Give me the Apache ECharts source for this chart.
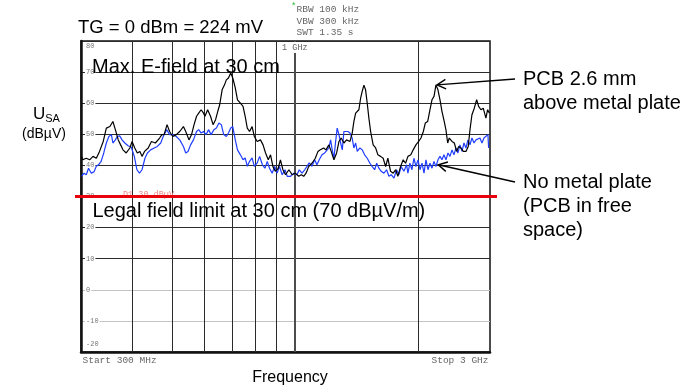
<!DOCTYPE html>
<html>
<head>
<meta charset="utf-8">
<script src="https://cdn.jsdelivr.net/npm/echarts@6/dist/echarts.min.js"></script>
<style>
html,body{margin:0;padding:0;background:#fff}
#chart{width:696px;height:388px}
</style>
</head>
<body>
<div id="chart"></div>
<script>
// Spectrum analyser sweep, 300 MHz .. 3 GHz (log), level in dBµV
const freqMin = 300;
const freqMax = 3000;
const levelMin = -20;
const levelMax = 80;
const levelStep = 10;

// vertical graticule (MHz); 1 GHz is the emphasised line
const freqGridMHz = [400, 500, 600, 700, 800, 900, 1000, 2000];

// display line D1
const displayLineDbuv = 30;

// trace: PCB 2.6 mm above metal plate  [MHz, dBµV]
const traceMetalPlate = [
  [301,42.9],[303,41.8],[309,42.3],[315,41.8],[321,42.9],[327,42.3],[333,44.5],[340,47.7],[346,52],[353,52.5],
  [359,54.1],[364,51.5],[370,48.2],[375,46.6],[380,45],[387,44],[395,45.6],[400,47.7],[406,45.6],[412,44],
  [418,44.5],[423,42.9],[429,44.5],[438,45.6],[446,47.7],[456,47.2],[467,48.8],[473,49.9],[479,49.9],[487,53.1],
  [494,50.9],[503,49.3],[513,49.9],[523,50.9],[534,52.5],[541,50.9],[551,48.2],[559,49.9],[567,53.1],[575,55.8],
  [582,56.8],[590,57.9],[598,56.8],[603,55.8],[612,57.9],[622,55.8],[631,53.1],[640,54.7],[648,57.4],[655,59.5],
  [664,64.3],[673,65.9],[680,67.5],[688,68.1],[697,69.7],[705,68.1],[715,64.9],[724,61.1],[736,60],[747,59],
  [756,55.8],[765,52],[775,50.9],[786,52.5],[796,49.3],[809,47.7],[824,48.2],[836,46.6],[848,44],[861,41.8],
  [872,43.4],[884,39.6],[896,38.1],[910,39],[922,41.8],[935,38.6],[949,37],[967,38.6],[985,37],[1002,37.5],
  [1022,36.5],[1037,37],[1051,36.5],[1065,37.5],[1081,39.6],[1101,40.7],[1122,42.3],[1139,44.5],[1154,45],[1176,45.6],
  [1191,45],[1211,46.6],[1227,44.5],[1246,41.8],[1265,44],[1282,47.7],[1298,48.8],[1318,47.2],[1338,48.2],[1364,47.7],
  [1381,50.4],[1394,54.1],[1408,56.8],[1421,57.4],[1434,57.9],[1448,61.6],[1461,63.8],[1475,65.8],[1489,64.3],[1503,60],
  [1517,55.2],[1532,50.9],[1554,46.6],[1576,45.6],[1596,43.4],[1620,42.9],[1644,42.3],[1667,39.6],[1688,42.3],[1714,38.1],
  [1740,37.5],[1763,38.6],[1786,36.5],[1813,39.6],[1840,41.8],[1865,40.7],[1890,42.9],[1921,43.4],[1947,45],[1977,46.6],
  [2008,47.7],[2034,48.8],[2061,50.9],[2084,53.6],[2112,54.1],[2140,57.9],[2164,61.1],[2189,62.2],[2213,65.9],[2238,64.3],
  [2264,61.1],[2289,57.4],[2319,54.1],[2341,51.4],[2364,47.2],[2385,48.8],[2422,47.7],[2454,47.2],[2486,44.5],[2515,46.1],
  [2547,45.6],[2581,44.5],[2620,44.5],[2654,46.1],[2680,51.4],[2710,56.3],[2746,58.4],[2783,61.1],[2814,59],[2851,57.9],
  [2888,58.4],[2932,55.2],[2960,57.9],[2990,56.8]
];

// trace: no metal plate (PCB in free space)  [MHz, dBµV]
const traceFreeSpace = [
  [301,36.5],[305,37.5],[309,37],[313,39.1],[318,37.5],[323,38],[327,39.7],[331,40.2],[336,41.3],[341,44],
  [346,47.2],[351,49.3],[356,49.9],[359,47.2],[364,48.2],[368,49.3],[373,49.5],[378,48.2],[384,47.2],[391,46.3],
  [398,45.9],[405,42.9],[411,38.6],[417,37.5],[423,38.6],[430,42.3],[436,44],[444,45],[453,45.6],[461,46.1],
  [470,47.2],[475,48.8],[479,49.9],[486,51.5],[494,49.9],[503,49.9],[513,49.3],[523,48.2],[534,46.1],[541,44],
  [548,44.5],[556,46.6],[565,48.2],[575,50.9],[582,51.5],[590,50.4],[598,50.9],[607,49.9],[615,51.5],[624,49.9],
  [634,51.5],[643,52],[652,53.6],[661,53.1],[670,49.9],[680,49.3],[688,50.4],[697,52],[705,52.5],[715,48.2],
  [724,45],[736,43.4],[747,41.8],[756,42.4],[765,39.7],[775,41.3],[786,42.4],[796,39.7],[809,40.8],[820,42.9],
  [833,40.2],[845,39.1],[856,41.3],[867,39.1],[880,37.5],[893,39.7],[905,37.5],[917,39.7],[931,37],[946,38.6],
  [958,36.5],[976,36.5],[994,37.5],[1012,37],[1025,38.6],[1041,37.5],[1057,38.6],[1071,39.7],[1084,40.8],[1101,39.7],
  [1118,41.8],[1132,40.2],[1147,41.8],[1165,43.4],[1183,44],[1196,44],[1211,45.6],[1223,48.2],[1234,45],[1246,42.3],
  [1258,47.7],[1269,52],[1282,49.9],[1294,47.2],[1306,45],[1318,50.9],[1331,50.4],[1348,50.9],[1364,50.4],[1381,48.8],
  [1394,45.6],[1408,47.2],[1421,44.5],[1442,45.6],[1461,45],[1481,43.4],[1503,42.3],[1526,40.7],[1546,39.6],[1567,38.6],
  [1585,40.7],[1605,39.1],[1626,38.1],[1651,37.5],[1676,38.6],[1698,36.5],[1720,37],[1747,35.9],[1773,38.6],[1796,37],
  [1819,39.6],[1848,38.1],[1876,40.2],[1890,37.5],[1911,40.7],[1933,38.6],[1955,42.3],[1977,39.6],[2000,41.8],[2023,38.6],
  [2046,40.7],[2069,37.5],[2092,41.8],[2116,38.6],[2140,40.7],[2164,39.1],[2189,41.3],[2213,39.6],[2238,41.8],[2264,42.9],
  [2289,41.8],[2315,43.4],[2341,41.8],[2368,44],[2395,42.9],[2422,45],[2449,43.4],[2477,45.6],[2505,44],[2533,46.6],
  [2562,44.5],[2591,47.2],[2620,45.6],[2650,48.2],[2680,46.6],[2710,48.8],[2741,47.2],[2772,48.2],[2803,47.7],[2835,48.8],
  [2867,47.2],[2900,48.8],[2932,48.2],[2965,49.9],[2977,45.6]
];

// points the callout arrows aim at  [MHz, dBµV]
const arrowTargets = [[2226, 65.9], [2242, 40.2]];

// callout text blocks on the right
const calloutLines = [
  ['PCB 2.6 mm', 'above metal plate'],
  ['No metal plate', '(PCB in free', 'space)']
];

const sans = 'Liberation Sans, Arial, sans-serif';
const mono = 'Liberation Mono, Courier New, monospace';

const chart = echarts.init(document.getElementById('chart'), null, {renderer: 'canvas'});

const calloutX = 523;
const calloutTop = [79, 182];
const calloutLead = 24;

function levelLabel(v) {
  if (v === levelMax) return '{et| }\n{n|' + v + '}';
  if (v === levelMin) return '{n|' + v + '}\n{eb| }';
  return '{n|' + v + '}';
}

const splitColors = [];
for (let v = levelMin; v <= levelMax; v += levelStep) {
  splitColors.push(v === 0 || v === -10 ? '#c4c4c4' : '#2b2b2b');
}

const option = {
  animation: false,
  backgroundColor: '#fff',
  grid: {left: 81, right: 206, top: 41, bottom: 36, show: true, borderColor: '#111', borderWidth: 1.5, containLabel: false},
  xAxis: {
    type: 'log', logBase: 10, min: freqMin, max: freqMax,
    axisLine: {show: true, onZero: false, lineStyle: {color: '#111', width: 2.5}},
    axisTick: {show: false}, axisLabel: {show: false}, splitLine: {show: false}, minorSplitLine: {show: false}
  },
  yAxis: {
    type: 'value', min: levelMin, max: levelMax, interval: levelStep,
    axisLine: {show: true, lineStyle: {color: '#111', width: 2.5}},
    axisTick: {show: false},
    axisLabel: {
      inside: true, margin: 4, formatter: levelLabel,
      fontFamily: mono, fontSize: 7, color: '#777',
      rich: {
        n: {fontFamily: mono, fontSize: 7, color: '#777', backgroundColor: '#fff', lineHeight: 9, padding: [0, 1, 0, 1]},
        et: {fontSize: 7, lineHeight: 11},
        eb: {fontSize: 7, lineHeight: 15}
      }
    },
    splitLine: {show: true, lineStyle: {color: splitColors, width: 1}}
  },
  series: [
    {
      // vertical graticule lines
      type: 'custom', coordinateSystem: 'cartesian2d', silent: true, z: 1, clip: false,
      data: freqGridMHz.map(f => [f, levelMin]),
      renderItem: (params, api) => {
        const f = api.value(0);
        const top = api.coord([f, levelMax]);
        const bot = api.coord([f, levelMin]);
        const major = f === 1000;
        const x = major ? Math.round(top[0]) : Math.round(top[0]) + 0.5;
        return {
          type: 'line',
          shape: {x1: x, y1: top[1], x2: x, y2: bot[1]},
          style: {stroke: major ? '#4d4d4d' : '#2b2b2b', lineWidth: major ? 2 : 1}
        };
      }
    },
    {
      name: 'No metal plate', type: 'line', data: traceFreeSpace, showSymbol: false, z: 3,
      lineStyle: {color: '#1f3dff', width: 1.2}
    },
    {
      name: 'PCB 2.6 mm above metal plate', type: 'line', data: traceMetalPlate, showSymbol: false, z: 4,
      lineStyle: {color: '#000', width: 1.2}
    },
    {
      // display line D1, extended a little past the frame
      type: 'custom', coordinateSystem: 'cartesian2d', silent: true, z: 10, clip: false,
      data: [[freqMin, displayLineDbuv]],
      renderItem: (params, api) => {
        const a = api.coord([freqMin, displayLineDbuv]);
        const b = api.coord([freqMax, displayLineDbuv]);
        return {
          type: 'line',
          shape: {x1: a[0] - 6, y1: a[1], x2: b[0] + 7, y2: b[1]},
          style: {stroke: '#e8000b', lineWidth: 3}
        };
      }
    },
    {
      // callout arrows from the right-hand text to the traces
      type: 'custom', coordinateSystem: 'cartesian2d', silent: true, z: 12, clip: false,
      data: arrowTargets,
      renderItem: (params, api) => {
        const tip = api.coord([api.value(0), api.value(1)]);
        const tail = [calloutX - 8, calloutTop[params.dataIndex]];
        const dx = tail[0] - tip[0], dy = tail[1] - tip[1];
        const len = Math.hypot(dx, dy);
        const ux = dx / len, uy = dy / len;
        const ang = 0.5, arm = 10;
        const c = Math.cos(ang), s = Math.sin(ang);
        const a1 = [tip[0] + arm * (ux * c - uy * s), tip[1] + arm * (ux * s + uy * c)];
        const a2 = [tip[0] + arm * (ux * c + uy * s), tip[1] + arm * (-ux * s + uy * c)];
        return {
          type: 'group',
          children: [
            {type: 'line', shape: {x1: tail[0], y1: tail[1], x2: tip[0], y2: tip[1]}, style: {stroke: '#000', lineWidth: 1.4}},
            {type: 'polyline', shape: {points: [a1, tip, a2]}, style: {stroke: '#000', lineWidth: 1.4, fill: null}}
          ]
        };
      }
    }
  ]
};

chart.setOption(option);

const ghzX = chart.convertToPixel({gridIndex: 0}, [1000, levelMax])[0];

const graphics = [
  {type: 'text', x: 78, y: 28, z: 20, style: {text: 'TG = 0 dBm = 224 mV', font: '18.5px ' + sans, fill: '#000', textVerticalAlign: 'middle'}},
  {type: 'text', x: 291, y: 7, z: 20, style: {text: '*', font: '9px ' + mono, fill: '#2db82d', textVerticalAlign: 'middle'}},
  {type: 'text', x: 296.5, y: 9.5, z: 20, style: {text: 'RBW 100 kHz', font: '9.5px ' + mono, fill: '#666', textVerticalAlign: 'middle'}},
  {type: 'text', x: 296.5, y: 21, z: 20, style: {text: 'VBW 300 kHz', font: '9.5px ' + mono, fill: '#666', textVerticalAlign: 'middle'}},
  {type: 'text', x: 296.5, y: 32.3, z: 20, style: {text: 'SWT 1.35 s', font: '9.5px ' + mono, fill: '#666', textVerticalAlign: 'middle'}},
  {type: 'text', x: ghzX, y: 47.5, z: 20, style: {text: '1 GHz', font: '8.5px ' + mono, fill: '#666', textAlign: 'center', textVerticalAlign: 'middle', backgroundColor: '#fff', padding: [1, 0, 1, 0]}},
  {type: 'text', x: 92, y: 67, z: 20, style: {text: 'Max. E-field at 30 cm', font: '20px ' + sans, fill: '#000', textVerticalAlign: 'middle'}},
  {type: 'text', x: 123, y: 194.5, z: 5, style: {text: 'D1 30 dBµV', font: '8.5px ' + mono, fill: '#f08a8a', textVerticalAlign: 'middle'}},
  {type: 'text', x: 92.5, y: 211, z: 20, style: {text: 'Legal field limit at 30 cm (70 dBµV/m)', font: '20px ' + sans, fill: '#000', textVerticalAlign: 'middle'}},
  {type: 'text', x: 82.5, y: 360, z: 20, style: {text: 'Start 300 MHz', font: '9.5px ' + mono, fill: '#666', textVerticalAlign: 'middle'}},
  {type: 'text', x: 488.5, y: 360, z: 20, style: {text: 'Stop 3 GHz', font: '9.5px ' + mono, fill: '#666', textAlign: 'right', textVerticalAlign: 'middle'}},
  {type: 'text', x: 290, y: 377.5, z: 20, style: {text: 'Frequency', font: '16px ' + sans, fill: '#000', textAlign: 'center', textVerticalAlign: 'middle'}},
  {type: 'text', x: 33, y: 114, z: 20, style: {
    text: '{u|U}{s|SA}', textVerticalAlign: 'middle',
    rich: {u: {font: '17px ' + sans, fill: '#000'}, s: {font: '11px ' + sans, fill: '#000', padding: [9, 0, 0, 0]}}
  }},
  {type: 'text', x: 44, y: 134, z: 20, style: {text: '(dBµV)', font: '14px ' + sans, fill: '#000', textAlign: 'center', textVerticalAlign: 'middle'}}
];

calloutLines.forEach((lines, k) => {
  lines.forEach((t, i) => {
    graphics.push({type: 'text', x: calloutX, y: calloutTop[k] + i * calloutLead + 0.5, z: 20,
      style: {text: t, font: '20px ' + sans, fill: '#000', textVerticalAlign: 'middle'}});
  });
});

chart.setOption({graphic: {elements: graphics}});
</script>
</body>
</html>
